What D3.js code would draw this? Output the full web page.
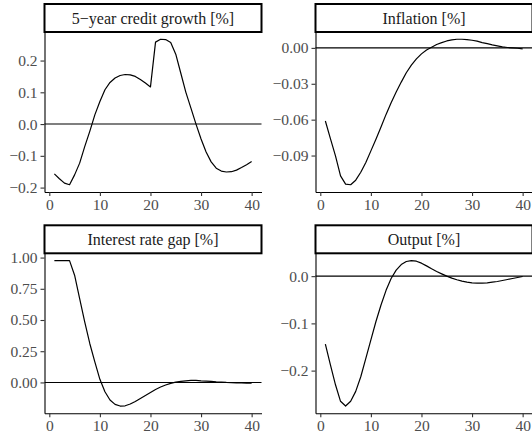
<!DOCTYPE html>
<html>
<head>
<meta charset="utf-8">
<script src="https://cdn.jsdelivr.net/npm/d3@7"></script>
<style>
  body { margin: 0; background: #fff; }
  text { font-family: "Liberation Serif", "DejaVu Serif", serif; }
</style>
</head>
<body>
<div id="my_dataviz"></div>
<script>
// quarters after the shock
var quarters = [1,2,3,4,5,6,7,8,9,10,11,12,13,14,15,16,17,18,19,20,
                21,22,23,24,25,26,27,28,29,30,31,32,33,34,35,36,37,38,39,40];

// impulse responses
var creditGrowth = [-0.157,-0.172,-0.186,-0.191,-0.160,-0.123,-0.071,-0.023,0.029,0.071,
                    0.108,0.131,0.145,0.153,0.156,0.155,0.150,0.140,0.129,0.117,
                    0.258,0.267,0.266,0.257,0.220,0.160,0.100,0.050,0.000,-0.047,
                    -0.088,-0.119,-0.139,-0.148,-0.151,-0.150,-0.145,-0.137,-0.128,-0.118];
var inflation = [-0.0611,-0.0758,-0.0903,-0.1070,-0.1139,-0.1144,-0.1106,-0.1040,-0.0958,-0.0861,
                 -0.0764,-0.0661,-0.0556,-0.0458,-0.0369,-0.0286,-0.0208,-0.0144,-0.0092,-0.0050,
                 -0.0017,0.0006,0.0028,0.0044,0.0058,0.0067,0.0072,0.0072,0.0069,0.0064,
                 0.0056,0.0044,0.0036,0.0025,0.0017,0.0008,0.0003,0.0000,-0.0003,-0.0008];
var rateGap = [0.976,0.976,0.976,0.976,0.859,0.672,0.485,0.312,0.165,0.025,
               -0.075,-0.141,-0.176,-0.189,-0.187,-0.173,-0.152,-0.128,-0.104,-0.080,
               -0.056,-0.037,-0.021,-0.008,0.003,0.008,0.013,0.016,0.016,0.013,
               0.011,0.008,0.005,0.003,0.000,-0.002,-0.003,-0.004,-0.005,-0.005];
var output = [-0.144,-0.188,-0.230,-0.265,-0.275,-0.265,-0.244,-0.213,-0.174,-0.135,
              -0.096,-0.061,-0.030,-0.005,0.0127,0.0246,0.031,0.033,0.0317,0.0275,
              0.0218,0.0155,0.0099,0.0049,0.0000,-0.0042,-0.0077,-0.0106,-0.0127,-0.0141,
              -0.0148,-0.0148,-0.0141,-0.0127,-0.0113,-0.0092,-0.0070,-0.0049,-0.0028,-0.0007];

var panelTitles = ["5\u2212year credit growth [%]", "Inflation [%]", "Interest rate gap [%]", "Output [%]"];

// tick labels
var xTicks = [0, 10, 20, 30, 40];
var yTicks1 = [-0.2, -0.1, 0.0, 0.1, 0.2];
var yLabels1 = ["\u22120.2", "\u22120.1", "0.0", "0.1", "0.2"];
var yTicks2 = [-0.09, -0.06, -0.03, 0.00];
var yLabels2 = ["\u22120.09", "\u22120.06", "\u22120.03", "0.00"];
var yTicks3 = [0.00, 0.25, 0.50, 0.75, 1.00];
var yLabels3 = ["0.00", "0.25", "0.50", "0.75", "1.00"];
var yTicks4 = [-0.2, -0.1, 0.0];
var yLabels4 = ["\u22120.2", "\u22120.1", "0.0"];

var series = [creditGrowth, inflation, rateGap, output];
var yTicks = [yTicks1, yTicks2, yTicks3, yTicks4];
var yLabels = [yLabels1, yLabels2, yLabels3, yLabels4];

// layout of the 2x2 facet grid
var width = 532, height = 441;
var panelW = 217, panelH = 160, stripH = 28;
var colX = [44.5, 315.5];
var rowY = [32, 253.3];

var svg = d3.select("#my_dataviz")
  .append("svg")
    .attr("width", width)
    .attr("height", height);

// expand a range by 5% each side, like ggplot
function expanded(vals) {
  var ext = d3.extent(vals);
  var pad = (ext[1] - ext[0]) * 0.05;
  return [ext[0] - pad, ext[1] + pad];
}

var xDom = expanded(quarters);

series.forEach(function(vals, i) {
  var col = i % 2, row = Math.floor(i / 2);
  var g = svg.append("g")
    .attr("transform", "translate(" + colX[col] + "," + rowY[row] + ")");

  var x = d3.scaleLinear().domain(xDom).range([0, panelW]);
  var y = d3.scaleLinear().domain(expanded(vals)).range([panelH, 0]);

  // zero line
  g.append("line")
    .attr("x1", 0).attr("x2", panelW)
    .attr("y1", y(0)).attr("y2", y(0))
    .attr("stroke", "black")
    .attr("stroke-width", 1.1);

  // response line
  var pts = quarters.map(function(q, k) { return [q, vals[k]]; });
  g.append("path")
    .datum(pts)
    .attr("fill", "none")
    .attr("stroke", "black")
    .attr("stroke-width", 1.2)
    .attr("stroke-linejoin", "round")
    .attr("d", d3.line()
      .x(function(d) { return x(d[0]); })
      .y(function(d) { return y(d[1]); }));

  // axes
  var labs = yLabels[i];
  var yAxis = g.append("g")
    .call(d3.axisLeft(y)
      .tickValues(yTicks[i])
      .tickFormat(function(d, k) { return labs[k]; })
      .tickSize(4)
      .tickSizeOuter(0)
      .tickPadding(3));
  var xAxis = g.append("g")
    .attr("transform", "translate(0," + panelH + ")")
    .call(d3.axisBottom(x)
      .tickValues(xTicks)
      .tickFormat(d3.format("d"))
      .tickSize(4)
      .tickSizeOuter(0)
      .tickPadding(3));

  [xAxis, yAxis].forEach(function(a) {
    a.attr("font-family", "Liberation Serif");
    a.select(".domain").attr("stroke", "black").attr("stroke-width", 1.1);
    a.selectAll(".tick line").attr("stroke", "#333").attr("stroke-width", 1.1);
    a.selectAll(".tick text")
      .attr("fill", "#4D4D4D")
      .style("font-size", "15.5px")
      .style("font-family", "'Liberation Serif'");
  });

  // strip
  g.append("rect")
    .attr("x", 0).attr("y", -stripH)
    .attr("width", panelW).attr("height", stripH)
    .attr("fill", "white")
    .attr("stroke", "black")
    .attr("stroke-width", 2);
  g.append("text")
    .attr("x", panelW / 2)
    .attr("y", -stripH / 2)
    .attr("dy", "0.35em")
    .style("text-anchor", "middle")
    .style("font-family", "'Liberation Serif'")
    .style("font-size", "16px")
    .attr("fill", "#1A1A1A")
    .text(panelTitles[i]);
});
</script>
</body>
</html>
